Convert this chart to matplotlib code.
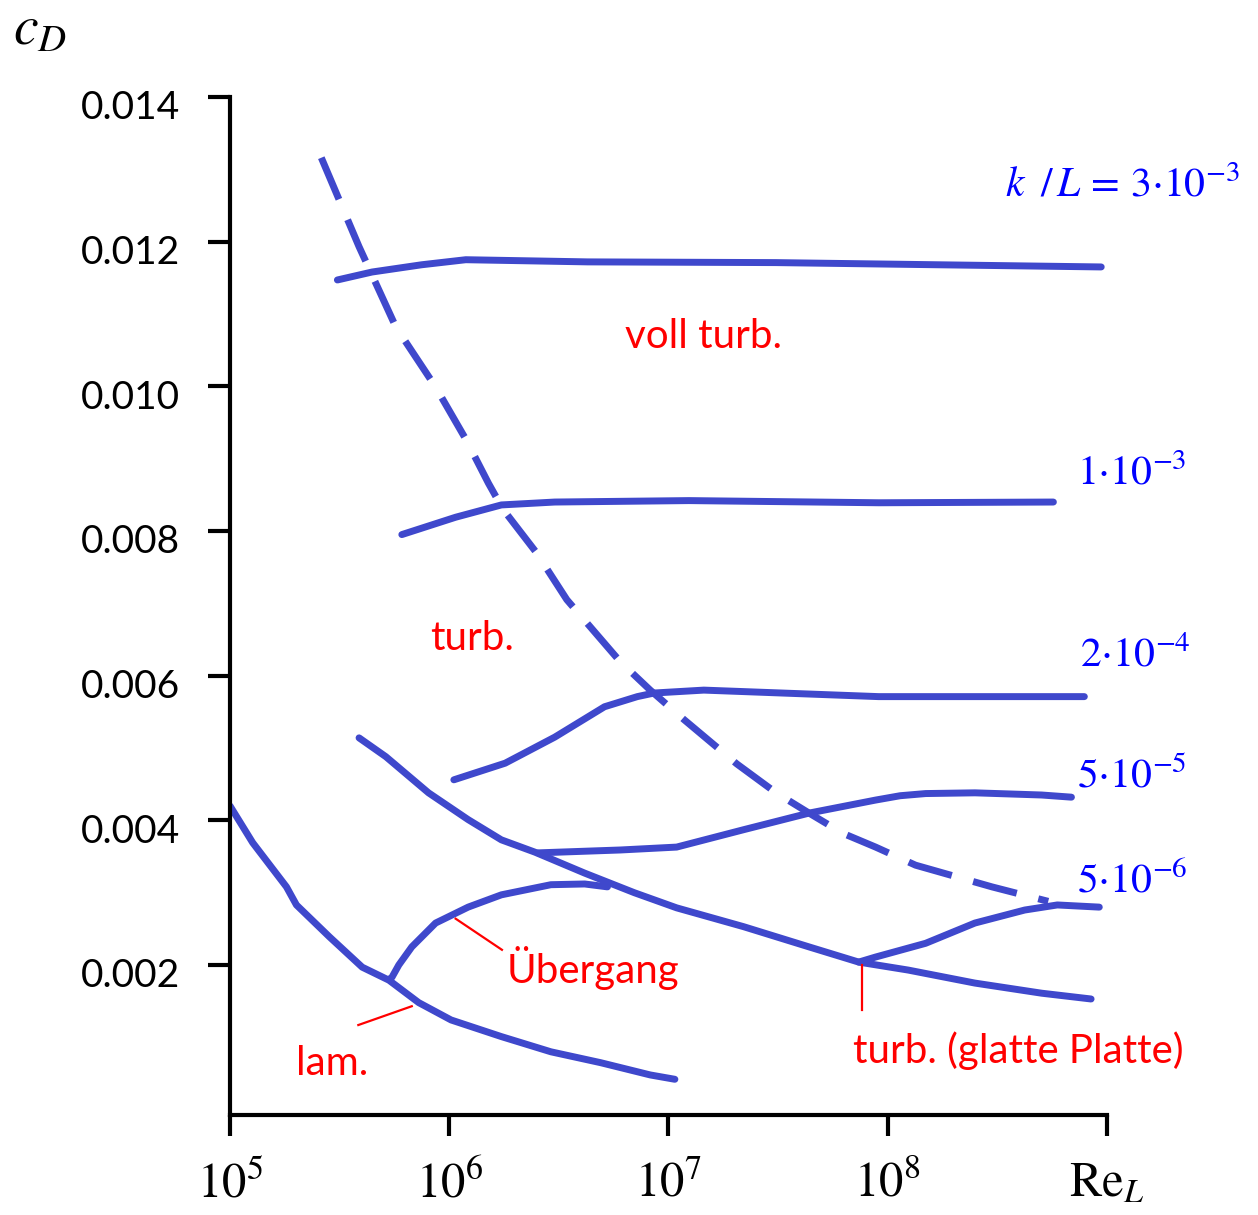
import numpy as np
import matplotlib as mpl
mpl.use("Agg")
import matplotlib.pyplot as plt
from matplotlib.transforms import ScaledTranslation

mpl.rcParams.update({
    "mathtext.fontset": "stix",
    "font.family": ["Lato", "DejaVu Sans"],
})

# ------------------------------------------------------------------
# Data (Re_L, c_D)
# ------------------------------------------------------------------
lam_re = [1.0e5, 1.27e5, 1.81e5, 2.01e5, 2.84e5, 4.01e5, 5.31e5, 7.26e5,
          1.02e6, 1.73e6, 2.91e6, 4.90e6, 8.26e6, 1.07e7]
lam_cd = [0.00420, 0.00369, 0.00308, 0.00283, 0.00239, 0.00197, 0.00179, 0.00148,
          0.00124, 0.00101, 0.00080, 0.00065, 0.00048, 0.00042]

trans_re = [5.31e5, 5.48e5, 5.89e5, 6.75e5, 8.67e5, 1.22e6, 1.73e6, 2.91e6, 4.15e6, 5.27e6]
trans_cd = [0.00180, 0.00183, 0.00200, 0.00225, 0.00258, 0.00280, 0.00297, 0.00311, 0.00312, 0.00308]

smooth_re = [3.88e5, 5.14e5, 8.05e5, 1.22e6, 1.73e6, 2.46e6, 4.15e6, 6.98e6,
             1.09e7, 2.20e7, 4.38e7, 7.38e7, 1.24e8, 2.50e8, 5.04e8, 8.47e8]
smooth_cd = [0.00514, 0.00488, 0.00438, 0.00401, 0.00373, 0.00356, 0.00327, 0.00300,
             0.00279, 0.00253, 0.00225, 0.00204, 0.00193, 0.00175, 0.00161, 0.00153]

k5e6_re = [7.38e7, 8.81e7, 1.49e8, 2.50e8, 4.22e8, 5.94e8, 9.23e8]
k5e6_cd = [0.00204, 0.00211, 0.00230, 0.00258, 0.00276, 0.00283, 0.00280]

k5e5_re = [2.54e6, 6.04e6, 1.09e7, 2.20e7, 4.38e7, 8.81e7, 1.14e8, 1.49e8, 2.50e8, 5.04e8, 6.89e8]
k5e5_cd = [0.00355, 0.00359, 0.00363, 0.00387, 0.00410, 0.00428, 0.00434, 0.00437, 0.00438, 0.00435, 0.00432]

k2e4_re = [1.05e6, 1.80e6, 3.03e6, 5.11e6, 7.21e6, 8.61e6, 1.45e7, 9.10e7, 7.89e8]
k2e4_cd = [0.00456, 0.00479, 0.00515, 0.00557, 0.00571, 0.00576, 0.00580, 0.00571, 0.00571]

k1e3_re = [6.08e5, 1.07e6, 1.73e6, 3.03e6, 1.24e7, 9.10e7, 5.70e8]
k1e3_cd = [0.00795, 0.00819, 0.00836, 0.00840, 0.00842, 0.00839, 0.00840]

k3e3_re = [3.09e5, 4.45e5, 7.48e5, 1.19e6, 4.28e6, 3.10e7, 9.42e8]
k3e3_cd = [0.01147, 0.01158, 0.01168, 0.01175, 0.01172, 0.01171, 0.01165]

# boundary "voll turbulent" (dashed)
full_re = [2.61e5, 3.88e5, 5.71e5, 8.67e5, 1.20e6, 1.51e6, 1.76e6, 2.50e6, 3.44e6, 6.04e6, 8.26e6,
           1.18e7, 2.05e7, 3.10e7, 4.38e7, 6.25e7, 8.81e7, 1.34e8, 2.99e8, 5.40e8]
full_cd = [0.01316, 0.01193, 0.01082, 0.00999, 0.00925, 0.00866, 0.00830, 0.00770, 0.00705, 0.00619, 0.00580,
           0.00539, 0.00478, 0.00438, 0.00410, 0.00382, 0.00363, 0.00338, 0.00308, 0.00288]

xticks = [1e5, 1e6, 1e7, 1e8, 1e9]
xticklabels = [r"$10^5$", r"$10^6$", r"$10^7$", r"$10^8$", r"$\mathrm{Re}_L$"]
yticks = [0.002, 0.004, 0.006, 0.008, 0.010, 0.012, 0.014]

# ------------------------------------------------------------------
fig = plt.figure(figsize=(12.58, 12.15), dpi=100)
ax = fig.add_axes([0.1828, 0.0823, 0.6971, 0.8379])

blue = "#3f48cc"
lw = 5
for xs, ys in [(lam_re, lam_cd), (trans_re, trans_cd), (smooth_re, smooth_cd),
               (k5e6_re, k5e6_cd), (k5e5_re, k5e5_cd), (k2e4_re, k2e4_cd),
               (k1e3_re, k1e3_cd), (k3e3_re, k3e3_cd)]:
    ax.plot(xs, ys, color=blue, lw=lw, solid_capstyle="round", solid_joinstyle="round")
ax.plot(full_re, full_cd, color=blue, lw=lw, linestyle=(0, (6.5, 3.2)),
        dash_capstyle="butt")

ax.set_xscale("log")
ax.set_xlim(1e5, 1e9)
ax.set_ylim(-0.0000738, 0.014)
ax.spines[["top", "right"]].set_visible(False)
for s in ["left", "bottom"]:
    ax.spines[s].set_linewidth(3)

ax.set_xticks(xticks)
ax.set_xticklabels(xticklabels, fontsize=35, family="STIXGeneral")
ax.xaxis.set_minor_locator(mpl.ticker.NullLocator())
ax.set_yticks(yticks)
ax.set_yticklabels([f"{v:.3f}" for v in yticks], fontsize=28)
ax.tick_params(axis="x", direction="out", length=15, width=3, pad=19)
ax.tick_params(axis="y", direction="out", length=16, width=3, pad=20)
off = ScaledTranslation(0, -8 / 100, fig.dpi_scale_trans)
for lab in ax.get_yticklabels():
    lab.set_transform(lab.get_transform() + off)

# red region labels
red = "#ff0000"
rkw = dict(color=red, fontsize=29, ha="left", va="baseline")
ax.text(6.35e6, 0.01053, "voll turb.", **rkw)
ax.text(8.22e5, 0.00636, "turb.", **rkw)
ax.text(1.82e6, 0.00175, "Übergang", **rkw)
ax.text(2.01e5, 0.00048, "lam.", **rkw)
ax.text(6.93e7, 0.000645, "turb. (glatte Platte)", **rkw)
ax.plot([3.85e5, 6.75e5], [0.00117, 0.00143], color=red, lw=1.6)
ax.plot([1.07e6, 1.74e6], [0.00264, 0.00221], color=red, lw=1.6)
ax.plot([7.62e7, 7.62e7], [0.00200, 0.00138], color=red, lw=1.6)

# roughness labels
bkw = dict(color="#0000ff", fontsize=30, ha="left", va="baseline")
ax.text(3.42e8, 0.01262, r"$k\;\;/\,L\,=\,3{\cdot}10^{-3}$", **bkw)
ax.text(7.33e8, 0.00864, r"$1{\cdot}10^{-3}$", **bkw)
ax.text(7.50e8, 0.00612, r"$2{\cdot}10^{-4}$", **bkw)
ax.text(7.33e8, 0.00446, r"$5{\cdot}10^{-5}$", **bkw)
ax.text(7.33e8, 0.00300, r"$5{\cdot}10^{-6}$", **bkw)

fig.text(13 / 1258, 1 - 44 / 1215, r"$c_D$", fontsize=40, ha="left", va="baseline")

fig.savefig("out.png", dpi=100)
